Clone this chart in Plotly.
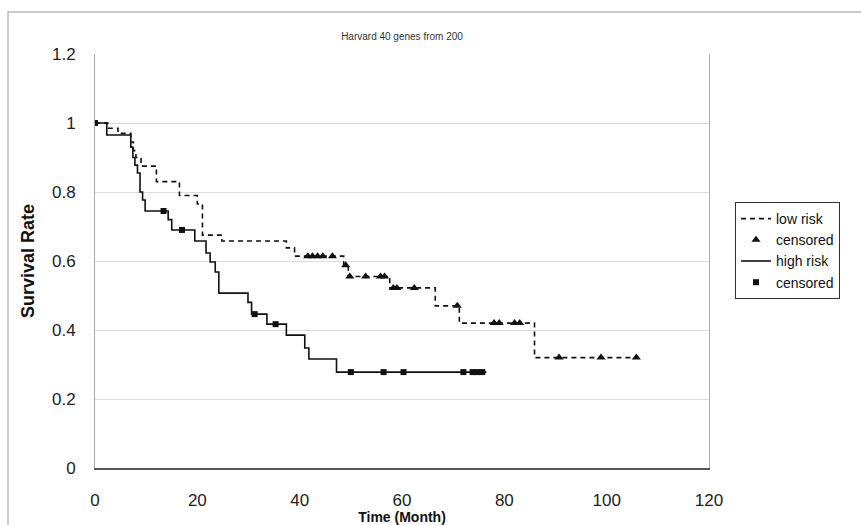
import plotly.graph_objects as go

# ---- data ----
low_t = [0, 2.5, 4.5, 7.0, 7.5, 8.0, 9.0, 12.0, 16.5, 20.0, 21.0, 24.8, 37.4, 39.0,
         48.6, 49.5, 57.6, 66.5, 71.2, 85.9, 106.0]
low_s = [1.0, 0.985, 0.97, 0.945, 0.92, 0.90, 0.875, 0.83, 0.79, 0.765, 0.675, 0.658,
         0.638, 0.614, 0.588, 0.555, 0.522, 0.47, 0.42, 0.32, 0.32]

low_cens_t = [41.6, 42.5, 43.5, 44.5, 46.4, 49.0, 49.8, 52.9, 55.8, 56.6, 58.3, 59.0,
              62.4, 70.8, 78.0, 79.0, 82.0, 83.0, 90.7, 98.9, 105.8]
low_cens_s = [0.614, 0.614, 0.614, 0.614, 0.614, 0.588, 0.555, 0.555, 0.555, 0.555,
              0.522, 0.522, 0.522, 0.47, 0.42, 0.42, 0.42, 0.42, 0.32, 0.32, 0.32]

high_t = [0, 2.3, 7.0, 7.4, 7.8, 8.3, 8.8, 9.3, 9.8, 14.3, 15.0, 19.5, 21.7, 22.5, 23.5,
          24.2, 29.9, 30.6, 33.6, 37.4, 41.0, 41.8, 47.2, 76.5]
high_s = [1.0, 0.965, 0.93, 0.90, 0.878, 0.855, 0.80, 0.777, 0.745, 0.72, 0.69, 0.658,
          0.623, 0.597, 0.568, 0.507, 0.48, 0.446, 0.417, 0.385, 0.348, 0.316, 0.278, 0.278]

high_cens_t = [0, 13.4, 17.0, 31.2, 35.3, 50.0, 56.4, 60.3, 72.0, 73.8, 74.7, 75.7]
high_cens_s = [1.0, 0.745, 0.69, 0.446, 0.417, 0.278, 0.278, 0.278, 0.278, 0.278, 0.278, 0.278]

x_ticks = [0, 20, 40, 60, 80, 100, 120]
y_ticks = [0, 0.2, 0.4, 0.6, 0.8, 1.0, 1.2]
y_tick_text = ["0", "0.2", "0.4", "0.6", "0.8", "1", "1.2"]

FONT = "Liberation Sans, Arial, sans-serif"

fig = go.Figure()
fig.add_trace(go.Scatter(x=low_t, y=low_s, mode="lines", name="low risk",
                         line=dict(shape="hv", color="#111", width=1.6, dash="5px,4px")))
fig.add_trace(go.Scatter(x=low_cens_t, y=low_cens_s, mode="markers", name="censored",
                         marker=dict(symbol="triangle-up", size=8, color="#111")))
fig.add_trace(go.Scatter(x=high_t, y=high_s, mode="lines", name="high risk",
                         line=dict(shape="hv", color="#111", width=1.6)))
fig.add_trace(go.Scatter(x=high_cens_t, y=high_cens_s, mode="markers", name="censored",
                         marker=dict(symbol="square", size=6, color="#111")))

W, H = 861, 525
L, R, T, B = 95, 709, 54, 468

fig.update_layout(
    width=W, height=H,
    margin=dict(l=L, r=W - R, t=T, b=H - B, autoexpand=False),
    paper_bgcolor="white", plot_bgcolor="white",
    font=dict(family=FONT, color="#222", size=14),
    title=dict(text="Harvard 40 genes from 200", x=(L + R) / 2 / W, xanchor="center",
               y=1 - 36 / H, yanchor="middle", font=dict(size=10, color="#333")),
    xaxis=dict(range=[0, 120], tickvals=x_ticks, ticktext=[str(v) for v in x_ticks],
               showgrid=False, zeroline=False, showline=True, linecolor="#555",
               linewidth=1.5, ticks="", ticklabelstandoff=16, automargin=False,
               tickfont=dict(size=17, color="#222"),
               title=dict(text="<b>Time (Month)</b>", font=dict(size=14, color="#111"),
                          standoff=4)),
    yaxis=dict(range=[0, 1.2], tickvals=y_ticks, ticktext=y_tick_text,
               showgrid=True, gridcolor="#dcdcdc", gridwidth=1, zeroline=False,
               showline=True, linecolor="#aaa", linewidth=1, mirror=True, ticks="",
               ticklabelstandoff=15, automargin=False, tickfont=dict(size=17, color="#222"),
               title=dict(text="<b>Survival Rate</b>", font=dict(size=18, color="#111"),
                          standoff=12)),
    legend=dict(x=(735 - L) / (R - L), xanchor="left", y=(B - 202) / (B - T), yanchor="top",
                bordercolor="#333", borderwidth=1, bgcolor="white",
                font=dict(size=14, color="#111"), tracegroupgap=0,
                itemwidth=30),
    showlegend=True,
)

# outer chart frame (Excel style)
fig.add_shape(type="rect", xref="paper", yref="paper",
              x0=(8 - L) / (R - L), x1=(W + 20 - L) / (R - L),
              y0=(B - (H + 20)) / (B - T), y1=(B - 12) / (B - T),
              line=dict(color="#bbb", width=1.5), fillcolor="rgba(0,0,0,0)", layer="below")

fig.write_html("out.html")
